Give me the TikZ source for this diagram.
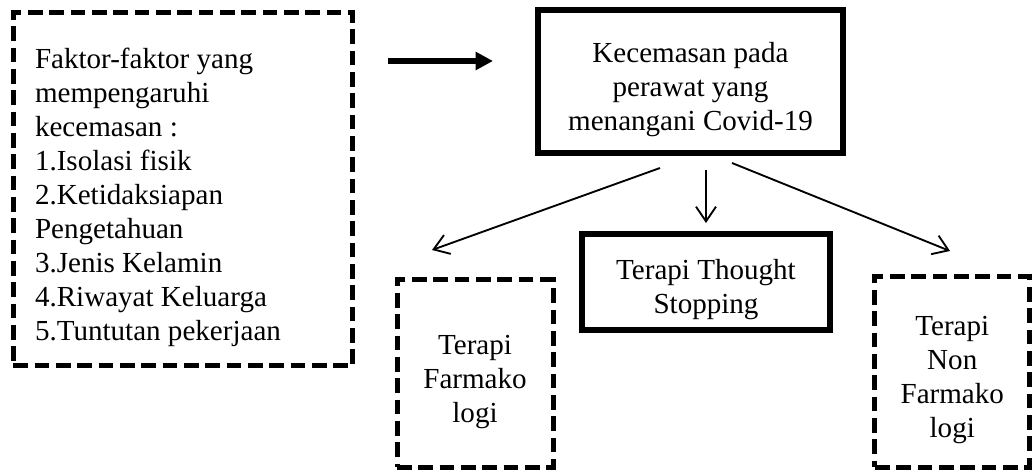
\documentclass[tikz,border=0pt]{standalone}
\usepackage{fontspec}
\setmainfont{Liberation Serif}
\usetikzlibrary{arrows.meta}
\newsavebox\tbkbox
\newlength\tbkht
\newlength\tbkdp
\newcommand\tbk[2][c]{\sbox\tbkbox{\begin{tabular}{@{}#1@{}}#2\end{tabular}}%
  \setlength\tbkht{\ht\tbkbox}\setlength\tbkdp{\dp\tbkbox}%
  \raisebox{-6pt}[\tbkht][\tbkdp]{\usebox\tbkbox}}
\tikzset{
  txt/.style={font=\fontsize{21.8pt}{25.5pt}\selectfont, inner sep=0pt},
  dbox/.style={draw, line width=3.75pt, dash pattern=on 11pt off 5pt, txt},
  sbox/.style={draw, line width=4.5pt, txt},
  thinarrow/.style={line width=1.4pt, -{Straight Barb[length=11pt,width=15pt]}},
  thickarrow/.style={line width=5pt, -{Triangle[length=13pt,width=13pt]}}
}
\begin{document}
\begin{tikzpicture}[x=0.75pt,y=-0.75pt]
\useasboundingbox (0,0) rectangle (1032,470);
% left factors box
\node[dbox, minimum width=254.6pt, minimum height=264.75pt] (A) at (183,189.5)
  {\tbk[p{222pt}]{Faktor-faktor yang\\mempengaruhi\\kecemasan :\\1.Isolasi fisik\\2.Ketidaksiapan\\Pengetahuan\\3.Jenis Kelamin\\4.Riwayat Keluarga\\5.Tuntutan pekerjaan}};
% central box
\node[sbox, minimum width=228.75pt, minimum height=107.25pt] (B) at (690.5,81.5)
  {\tbk{Kecemasan pada\\perawat yang\\menangani Covid-19}};
% thought stopping
\node[sbox, minimum width=186pt, minimum height=72pt] (C) at (706,282)
  {\tbk{Terapi Thought\\Stopping}};
% farmakologi
\node[dbox, minimum width=117pt, minimum height=140.25pt] (D) at (475,373.5)
  {\tbk{Terapi\\Farmako\\logi}};
% non farmakologi
\node[dbox, minimum width=115.9pt, minimum height=142.5pt] (E) at (952.25,372)
  {\tbk{Terapi\\Non\\Farmako\\logi}};
% thick arrow
\coordinate (ta) at (388,61);
\coordinate (tb) at (493,61);
\draw[thickarrow] (ta) -- (tb);
% branch arrows
\coordinate (bl) at (660,168);
\coordinate (bm) at (706,170);
\coordinate (br) at (732,163);
\coordinate (dl) at (432,250);
\coordinate (cm) at (706,223);
\coordinate (er) at (950,251);
\draw[thinarrow] (bl) -- (dl);
\draw[thinarrow] (bm) -- (cm);
\draw[thinarrow] (br) -- (er);
\end{tikzpicture}
\end{document}
